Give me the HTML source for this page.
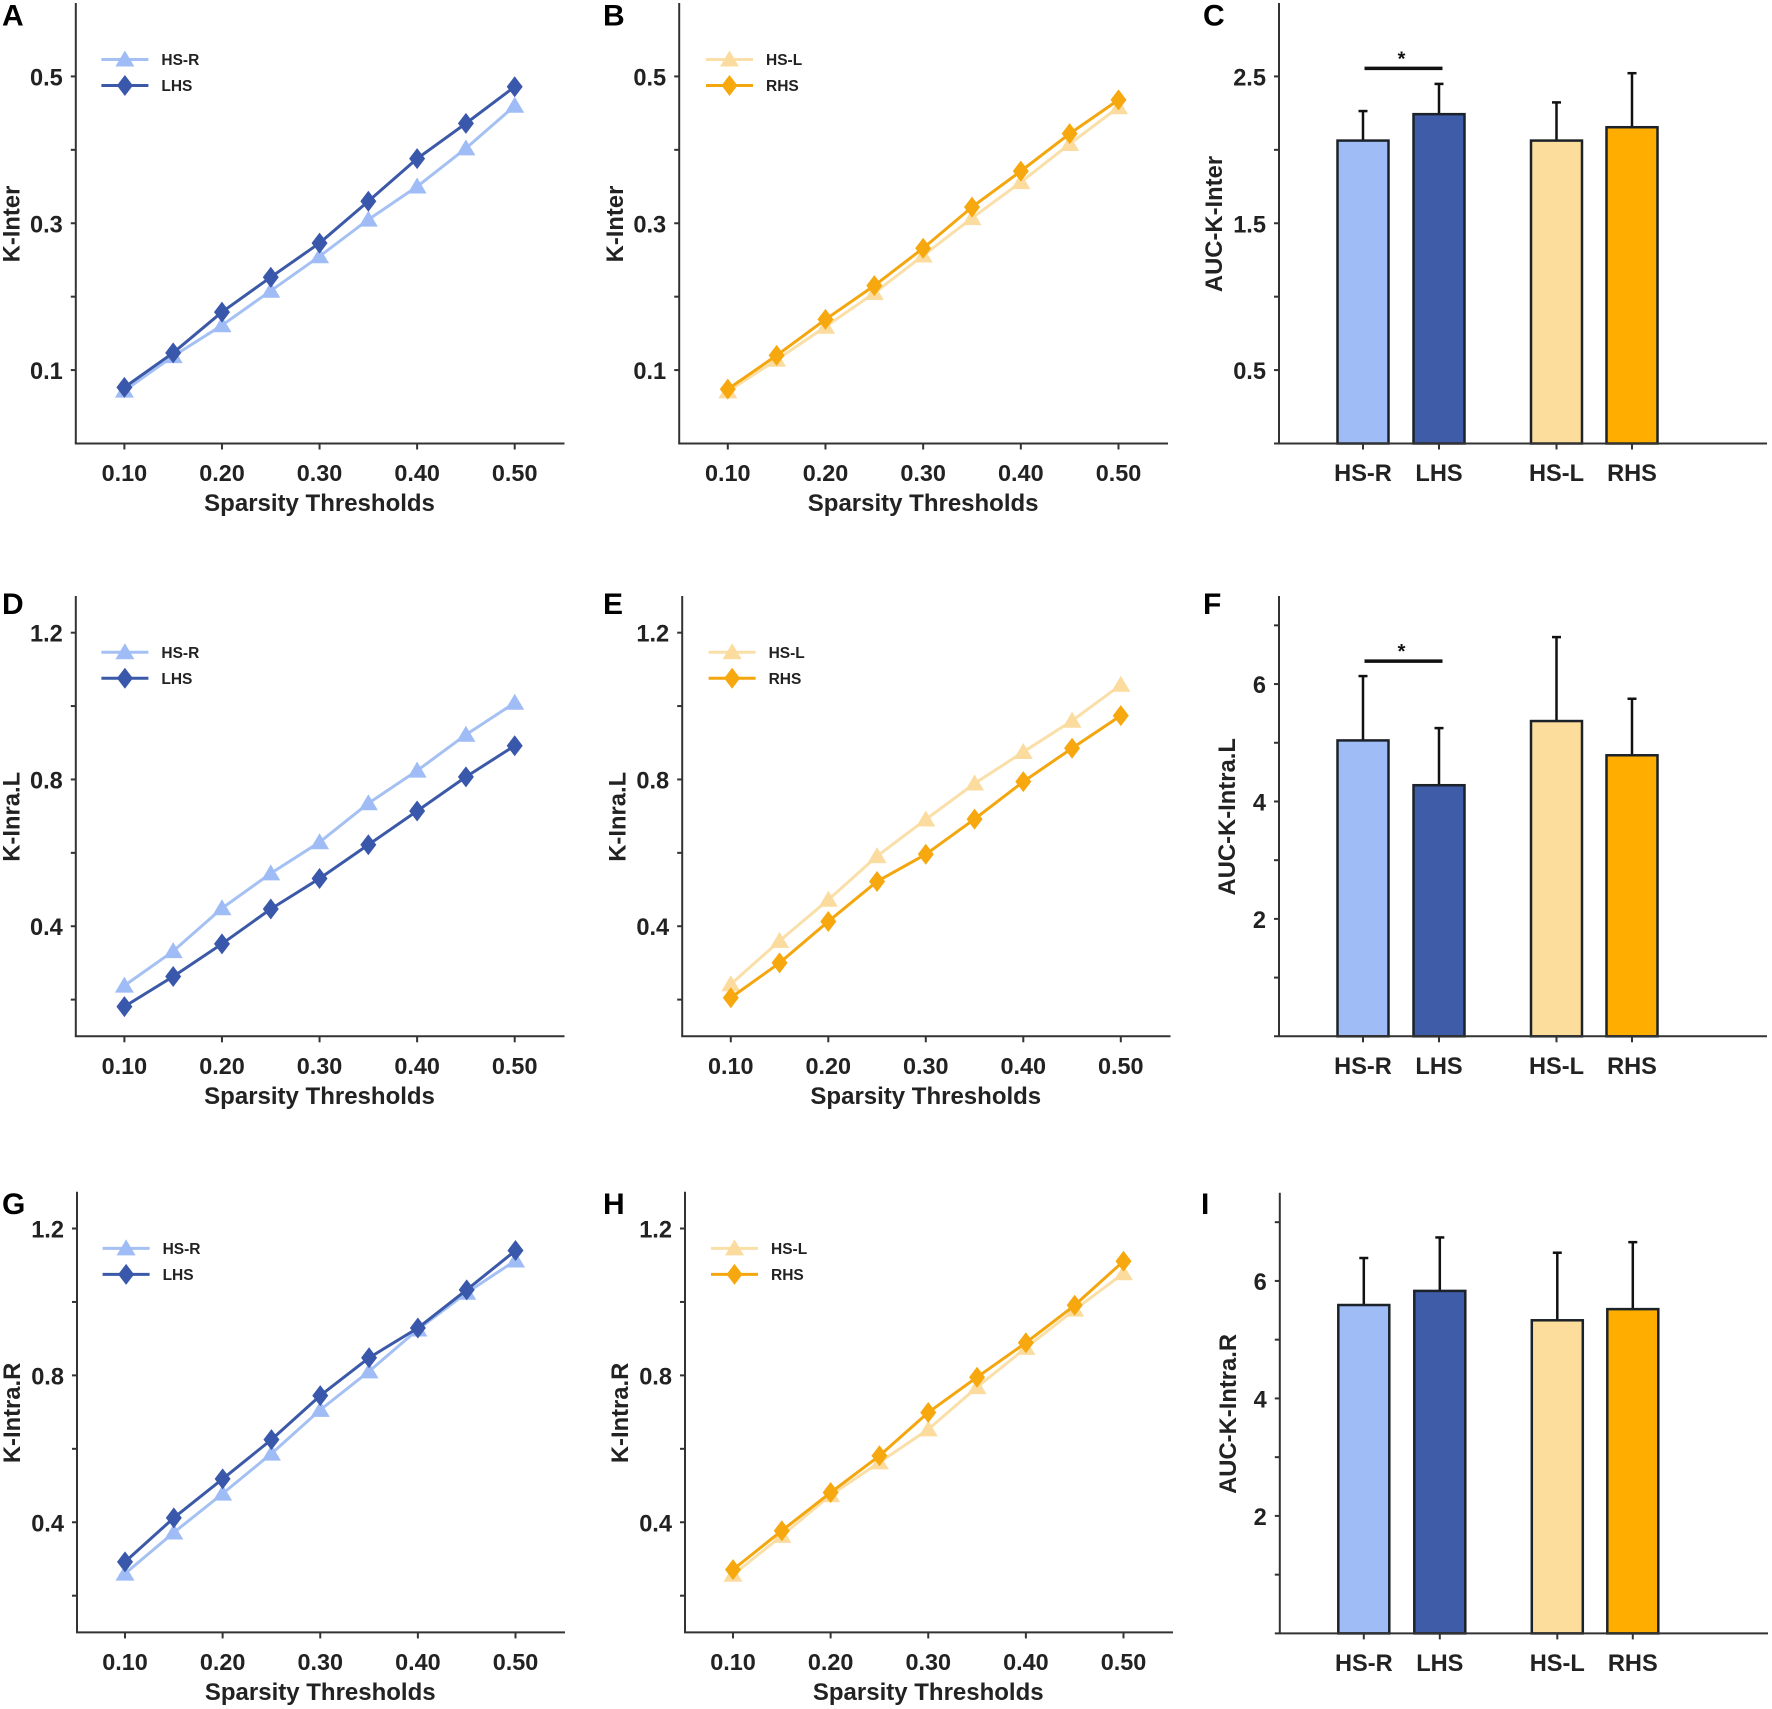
<!DOCTYPE html>
<html lang="en">
<head>
<meta charset="utf-8">
<title>K-Inter and K-Intra sparsity curves with AUC bars</title>
<style>
  html, body { margin: 0; padding: 0; background: #ffffff; }
  #figure { display: block; filter: blur(0.35px); }
  text { font-family: "Liberation Sans", Arial, sans-serif; font-weight: 700; fill: #222222; }
</style>
</head>
<body>
<svg id="figure" xmlns="http://www.w3.org/2000/svg" width="1772" height="1709" viewBox="0 0 1772 1709"></svg>
<script>
// ---------- shared categories and ticks ----------
const sparsityLevels = [0.10, 0.15, 0.20, 0.25, 0.30, 0.35, 0.40, 0.45, 0.50];
const sparsityTickValues = [0.10, 0.20, 0.30, 0.40, 0.50];
const sparsityTickLabels = ["0.10", "0.20", "0.30", "0.40", "0.50"];
const barCategories = ["HS-R", "LHS", "HS-L", "RHS"];

const interTicks = [0.1, 0.3, 0.5];
const interTickLabels = ["0.1", "0.3", "0.5"];
const interMinorTicks = [0.2, 0.4];

const intraTicks = [0.4, 0.8, 1.2];
const intraTickLabels = ["0.4", "0.8", "1.2"];
const intraMinorTicks = [0.2, 0.6, 1.0];

const aucInterTicks = [0.5, 1.5, 2.5];
const aucInterTickLabels = ["0.5", "1.5", "2.5"];
const aucInterMinorTicks = [1, 2];

const aucIntraTicks = [2, 4, 6];
const aucIntraTickLabels = ["2", "4", "6"];
const aucIntraMinorTicks = [1, 3, 5, 7];

// ---------- line panel values ----------
const panelAHsR = [0.072, 0.119, 0.161, 0.208, 0.255, 0.305, 0.350, 0.402, 0.460];
const panelALhs = [0.0765, 0.1235, 0.179, 0.2265, 0.273, 0.330, 0.388, 0.436, 0.486];

const panelBHsL = [0.071, 0.114, 0.159, 0.205, 0.256, 0.307, 0.356, 0.408, 0.458];
const panelBRhs = [0.074, 0.120, 0.169, 0.215, 0.266, 0.322, 0.371, 0.422, 0.468];

const panelDHsR = [0.238, 0.332, 0.449, 0.544, 0.629, 0.735, 0.824, 0.922, 1.009];
const panelDLhs = [0.181, 0.263, 0.352, 0.447, 0.530, 0.622, 0.714, 0.807, 0.892];

const panelEHsL = [0.242, 0.360, 0.472, 0.591, 0.691, 0.789, 0.875, 0.960, 1.058];
const panelERhs = [0.205, 0.300, 0.413, 0.522, 0.596, 0.692, 0.794, 0.885, 0.974];

const panelGHsR = [0.260, 0.372, 0.478, 0.587, 0.706, 0.811, 0.925, 1.025, 1.113];
const panelGLhs = [0.292, 0.412, 0.518, 0.625, 0.745, 0.848, 0.929, 1.033, 1.140];

const panelHHsL = [0.257, 0.363, 0.474, 0.563, 0.653, 0.768, 0.875, 0.979, 1.078];
const panelHRhs = [0.271, 0.377, 0.481, 0.581, 0.699, 0.795, 0.889, 0.991, 1.111];

// ---------- bar panel values ----------
const panelCMeans = [2.063, 2.243, 2.063, 2.154];
const panelCErrorTops = [2.264, 2.449, 2.323, 2.522];
const panelFMeans = [5.04, 4.277, 5.37, 4.787];
const panelFErrorTops = [6.136, 5.25, 6.8, 5.75];
const panelIMeans = [5.59, 5.83, 5.33, 5.52];
const panelIErrorTops = [6.39, 6.74, 6.48, 6.66];

// ---------- drawing ----------
const SVG_NS = "http://www.w3.org/2000/svg";
const figure = document.getElementById("figure");
const AXIS_COLOR = "#333333";
const BLUE_LIGHT = { line: "#a5c1f3", mark: "#9fbcf6" };
const BLUE_DARK = { line: "#3c59a8", mark: "#3a58ab" };
const ORANGE_LIGHT = { line: "#fadfa8", mark: "#fbdc9e" };
const ORANGE_DARK = { line: "#f4a60f", mark: "#f6a80e" };
const BAR_FILLS = ["#9fbcf6", "#3f5ca9", "#fddd9c", "#ffae00"];

function make(tag, parent, attrs, name, interactable) {
  const el = document.createElementNS(SVG_NS, tag);
  for (const key in attrs) el.setAttribute(key, attrs[key]);
  
  
  parent.appendChild(el);
  return el;
}

function label(parent, x, y, str, size, anchor, name, extra) {
  const attrs = Object.assign({ x: x, y: y, "font-size": size, "text-anchor": anchor }, extra || {});
  const t = make("text", parent, attrs, name, false);
  t.textContent = str;
  return t;
}

function hLine(parent, x1, x2, y, color, width, name) {
  return make("line", parent, { x1: x1, x2: x2, y1: y, y2: y, stroke: color, "stroke-width": width }, name, false);
}

function vLine(parent, x, y1, y2, color, width, name) {
  return make("line", parent, { x1: x, x2: x, y1: y1, y2: y2, stroke: color, "stroke-width": width }, name, false);
}

function linearScale(d0, d1, r0, r1) {
  return function (v) { return r0 + (v - d0) * (r1 - r0) / (d1 - d0); };
}

function drawYAxis(group, o, yScale) {
  vLine(group, o.axisX, o.top, o.bottom, AXIS_COLOR, 2, "y-axis-line");
  o.ticks.forEach(function (v, i) {
    const y = yScale(v);
    hLine(group, o.axisX - 5, o.axisX, y, AXIS_COLOR, 2, "y-tick");
    label(group, o.axisX - 13, y + 9, o.tickLabels[i], 23.6, "end", "y-tick-label");
  });
  o.minorTicks.forEach(function (v) {
    hLine(group, o.axisX - 5, o.axisX, yScale(v), AXIS_COLOR, 2, "y-minor-tick");
  });
  label(group, 0, 0, o.yTitle, 23.8, "middle", "y-axis-title", {
    transform: "translate(" + o.yTitleX + "," + (o.bottom - 219.5) + ") rotate(-90)"
  });
}

function trianglePoints(x, y) {
  return [[x, y - 9], [x + 9.5, y + 7], [x - 9.5, y + 7]].map(function (p) { return p.join(","); }).join(" ");
}

function diamondPoints(x, y) {
  return [[x, y - 10.5], [x + 8, y], [x, y + 10.5], [x - 8, y]].map(function (p) { return p.join(","); }).join(" ");
}

function drawSeries(group, values, xScale, yScale, color, markerKind, name) {
  const g = make("g", group, {}, name + "-series", false);
  const pts = values.map(function (v, i) { return [xScale(sparsityLevels[i]), yScale(v)]; });
  make("polyline", g, {
    points: pts.map(function (p) { return p.join(","); }).join(" "),
    fill: "none",
    stroke: color.line,
    "stroke-width": 3,
    "stroke-linejoin": "round"
  }, name + "-line", false);
  pts.forEach(function (p) {
    const shape = markerKind === "triangle" ? trianglePoints(p[0], p[1]) : diamondPoints(p[0], p[1]);
    make("polygon", g, { points: shape, fill: color.mark }, name + "-point", false);
  });
}

function drawLegendRow(group, x1, y, color, markerKind, text, name) {
  hLine(group, x1, x1 + 47, y, color.line, 3, name + "-legend-line");
  const cx = x1 + 23.5;
  const shape = markerKind === "triangle" ? trianglePoints(cx, y) : diamondPoints(cx, y);
  make("polygon", group, { points: shape, fill: color.mark }, name + "-legend-marker", false);
  label(group, x1 + 60, y + 5.5, text, 15.5, "start", name + "-legend-label");
}

function drawLinePanel(o) {
  const group = make("g", figure, {}, "panel-" + o.letter.toLowerCase(), false);
  const xScale = linearScale(0.10, 0.50, o.x10, o.x50);
  const yScale = linearScale(o.yMin, o.yMax, o.bottom, o.top);
  label(group, o.letterX, o.letterY, o.letter, 30, "start", "panel-letter", { style: "fill:#000" });
  drawYAxis(group, o, yScale);

  hLine(group, o.axisX - 1, o.axisEnd, o.bottom, AXIS_COLOR, 2, "x-axis-line");
  sparsityTickValues.forEach(function (v, i) {
    vLine(group, xScale(v), o.bottom, o.bottom + 6, AXIS_COLOR, 2, "x-tick");
    label(group, xScale(v), o.bottom + 37.5, sparsityTickLabels[i], 23.4, "middle", "x-tick-label");
  });
  label(group, (o.x10 + o.x50) / 2, o.bottom + 67.5, "Sparsity Thresholds", 24, "middle", "x-axis-title");

  drawSeries(group, o.lightValues, xScale, yScale, o.lightColor, "triangle", o.lightName.toLowerCase());
  drawSeries(group, o.darkValues, xScale, yScale, o.darkColor, "diamond", o.darkName.toLowerCase());

  const legend = make("g", group, {}, "legend", false);
  drawLegendRow(legend, o.axisX + o.legendOffset, o.bottom - 384, o.lightColor, "triangle", o.lightName, o.lightName.toLowerCase());
  drawLegendRow(legend, o.axisX + o.legendOffset, o.bottom - 358, o.darkColor, "diamond", o.darkName, o.darkName.toLowerCase());
}

function drawBarPanel(o) {
  const group = make("g", figure, {}, "panel-" + o.letter.toLowerCase(), false);
  const yScale = linearScale(0, o.yMax, o.bottom, o.top);
  const centerOf = function (i) {
    return o.axisX + [84, 160, 277.5, 353][i];
  };
  label(group, o.letterX, o.letterY, o.letter, 30, "start", "panel-letter", { style: "fill:#000" });
  drawYAxis(group, o, yScale);

  o.means.forEach(function (v, i) {
    const c = centerOf(i);
    const name = barCategories[i].toLowerCase();
    vLine(group, c, yScale(o.errorTops[i]), yScale(v), "#111111", 2.5, "error-bar-" + name);
    hLine(group, c - 4.5, c + 4.5, yScale(o.errorTops[i]), "#111111", 2.5, "error-cap-" + name);
    make("rect", group, {
      x: c - 25.5,
      y: yScale(v),
      width: 51,
      height: o.bottom - yScale(v),
      fill: BAR_FILLS[i],
      stroke: "#1c2229",
      "stroke-width": 2.5
    }, "bar-" + name, false);
  });

  hLine(group, o.axisX - 5, o.axisEnd, o.bottom, AXIS_COLOR, 2, "x-axis-line");
  barCategories.forEach(function (c, i) {
    vLine(group, centerOf(i), o.bottom, o.bottom + 6, AXIS_COLOR, 2, "x-tick");
    label(group, centerOf(i), o.bottom + 37.5, c, 23.6, "middle", "x-tick-label");
  });

  if (o.sigValue !== null) {
    const sigY = yScale(o.sigValue);
    hLine(group, o.axisX + 85.5, o.axisX + 163.5, sigY, "#111111", 3.5, "significance-bar");
    label(group, o.axisX + 122.5, sigY - 3, "*", 20, "middle", "significance-star", { style: "fill:#111" });
  }
}

drawLinePanel({
  letter: "A", letterX: 2, letterY: 25.5, axisX: 75.8, axisEnd: 564.5, top: 3, bottom: 443.5,
  x10: 124.4, x50: 514.7, yMin: 0, yMax: 0.6,
  ticks: interTicks, tickLabels: interTickLabels, minorTicks: interMinorTicks,
  yTitle: "K-Inter", yTitleX: 19.5, legendOffset: 25.6,
  lightValues: panelAHsR, darkValues: panelALhs, lightColor: BLUE_LIGHT, darkColor: BLUE_DARK,
  lightName: "HS-R", darkName: "LHS"
});
drawLinePanel({
  letter: "B", letterX: 603, letterY: 25.5, axisX: 679.2, axisEnd: 1168, top: 3, bottom: 443.5,
  x10: 727.8, x50: 1118.5, yMin: 0, yMax: 0.6,
  ticks: interTicks, tickLabels: interTickLabels, minorTicks: interMinorTicks,
  yTitle: "K-Inter", yTitleX: 623, legendOffset: 26.8,
  lightValues: panelBHsL, darkValues: panelBRhs, lightColor: ORANGE_LIGHT, darkColor: ORANGE_DARK,
  lightName: "HS-L", darkName: "RHS"
});
drawBarPanel({
  letter: "C", letterX: 1203, letterY: 25.5, axisX: 1279, axisEnd: 1767, top: 3, bottom: 443.5, yMax: 3,
  ticks: aucInterTicks, tickLabels: aucInterTickLabels, minorTicks: aucInterMinorTicks,
  yTitle: "AUC-K-Inter", yTitleX: 1222,
  means: panelCMeans, errorTops: panelCErrorTops, sigValue: 2.555
});
drawLinePanel({
  letter: "D", letterX: 2, letterY: 614, axisX: 75.8, axisEnd: 564.5, top: 596, bottom: 1036.3,
  x10: 124.4, x50: 514.7, yMin: 0.1, yMax: 1.3,
  ticks: intraTicks, tickLabels: intraTickLabels, minorTicks: intraMinorTicks,
  yTitle: "K-Inra.L", yTitleX: 19.5, legendOffset: 25.6,
  lightValues: panelDHsR, darkValues: panelDLhs, lightColor: BLUE_LIGHT, darkColor: BLUE_DARK,
  lightName: "HS-R", darkName: "LHS"
});
drawLinePanel({
  letter: "E", letterX: 603, letterY: 614, axisX: 682.2, axisEnd: 1170.5, top: 596, bottom: 1036.3,
  x10: 730.8, x50: 1120.8, yMin: 0.1, yMax: 1.3,
  ticks: intraTicks, tickLabels: intraTickLabels, minorTicks: intraMinorTicks,
  yTitle: "K-Inra.L", yTitleX: 625.5, legendOffset: 26.4,
  lightValues: panelEHsL, darkValues: panelERhs, lightColor: ORANGE_LIGHT, darkColor: ORANGE_DARK,
  lightName: "HS-L", darkName: "RHS"
});
drawBarPanel({
  letter: "F", letterX: 1203, letterY: 614, axisX: 1279, axisEnd: 1767, top: 596, bottom: 1036.3, yMax: 7.5,
  ticks: aucIntraTicks, tickLabels: aucIntraTickLabels, minorTicks: aucIntraMinorTicks,
  yTitle: "AUC-K-Intra.L", yTitleX: 1235,
  means: panelFMeans, errorTops: panelFErrorTops, sigValue: 6.39
});
drawLinePanel({
  letter: "G", letterX: 2, letterY: 1214, axisX: 77, axisEnd: 565, top: 1191.8, bottom: 1632.4,
  x10: 125, x50: 515.5, yMin: 0.1, yMax: 1.3,
  ticks: intraTicks, tickLabels: intraTickLabels, minorTicks: intraMinorTicks,
  yTitle: "K-Intra.R", yTitleX: 20, legendOffset: 25.6,
  lightValues: panelGHsR, darkValues: panelGLhs, lightColor: BLUE_LIGHT, darkColor: BLUE_DARK,
  lightName: "HS-R", darkName: "LHS"
});
drawLinePanel({
  letter: "H", letterX: 603, letterY: 1214, axisX: 685, axisEnd: 1173, top: 1191.8, bottom: 1632.4,
  x10: 733, x50: 1123.5, yMin: 0.1, yMax: 1.3,
  ticks: intraTicks, tickLabels: intraTickLabels, minorTicks: intraMinorTicks,
  yTitle: "K-Intra.R", yTitleX: 628, legendOffset: 26,
  lightValues: panelHHsL, darkValues: panelHRhs, lightColor: ORANGE_LIGHT, darkColor: ORANGE_DARK,
  lightName: "HS-L", darkName: "RHS"
});
drawBarPanel({
  letter: "I", letterX: 1201, letterY: 1214, axisX: 1279.8, axisEnd: 1768, top: 1192.8, bottom: 1633.4, yMax: 7.5,
  ticks: aucIntraTicks, tickLabels: aucIntraTickLabels, minorTicks: aucIntraMinorTicks,
  yTitle: "AUC-K-Intra.R", yTitleX: 1236,
  means: panelIMeans, errorTops: panelIErrorTops, sigValue: null
});
</script>
</body>
</html>
